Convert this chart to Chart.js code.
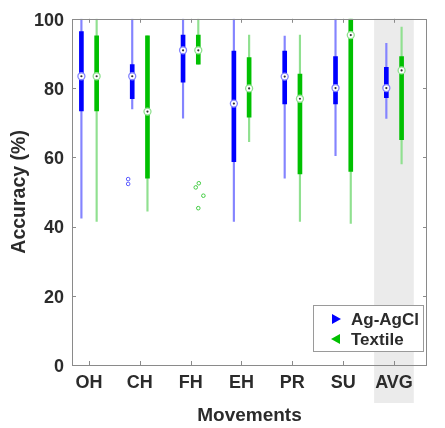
<!DOCTYPE html>
<html>
<head>
<meta charset="utf-8">
<script src="https://cdn.jsdelivr.net/npm/chart.js@4.4.1/dist/chart.umd.min.js"></script>
<style>
  html, body { margin: 0; padding: 0; background: #ffffff; }
  #wrap { width: 445px; height: 428px; }
</style>
</head>
<body>
<div id="wrap"><canvas id="c" width="445" height="428"></canvas></div>
<script>
// ---- data ----
const categories = ['OH', 'CH', 'FH', 'EH', 'PR', 'SU', 'AVG'];
const seriesNames = ['Ag-AgCl', 'Textile'];
const yTicks = [0, 20, 40, 60, 80, 100];

const agMin = [42.4, 74.0, 71.3, 41.5, 54.0, 60.5, 71.2];
const agQ1  = [73.4, 76.9, 81.7, 58.7, 75.4, 75.4, 77.2];
const agMed = [83.4, 83.4, 90.9, 75.5, 83.3, 80.0, 80.0];
const agQ3  = [96.3, 86.8, 95.3, 90.7, 90.7, 89.1, 86.0];
const agMax = [100, 100, 100, 100, 95.0, 100, 92.9];

const txMin = [41.5, 44.4, 86.9, 64.5, 41.5, 40.9, 58.1];
const txQ1  = [73.4, 54.0, 86.9, 71.6, 55.2, 55.9, 65.1];
const txMed = [83.4, 73.2, 90.9, 79.9, 76.9, 95.3, 85.1];
const txQ3  = [95.1, 95.1, 95.3, 88.8, 84.0, 100, 89.1];
const txMax = [100, 95.1, 100, 95.3, 95.3, 100, 97.6];

// outliers: category index (1-based), value, horizontal jitter
const agOutCat = [2, 2];
const agOutVal = [53.7, 52.3];
const agOutJit = [-0.08, -0.08];
const txOutCat = [3, 3, 3, 3];
const txOutVal = [51.3, 52.5, 48.9, 45.3];
const txOutJit = [-0.05, 0.01, 0.10, 0.0];

// ---- styling ----
const SHIFT = 0.15;
const BLUE = '#0000ff', BLUE_W = '#8484ff';
const GREEN = '#00c000', GREEN_W = '#90e090';
const TEXT = '#2b2b2b', AXIS = '#8a8a8a';
const FONT = "'Liberation Sans', Arial, Helvetica, sans-serif";
Chart.defaults.font.family = FONT;

const pos = (i, s) => i + 1 + s;
const ranges = (lo, hi, s) => categories.map((c, i) => ({ x: pos(i, s), y: [lo[i], hi[i]] }));
const points = (v, s) => categories.map((c, i) => ({ x: pos(i, s), y: v[i] }));
const outs = (cat, val, jit, s) => cat.map((c, k) => ({ x: c + s + jit[k], y: val[k] }));

function whisker(data, color) {
  return { type: 'bar', data, backgroundColor: color, borderWidth: 0, barThickness: 1.5, grouped: false, order: 5 };
}
function box(data, color) {
  return { type: 'bar', data, backgroundColor: color, borderWidth: 0, barThickness: 4, grouped: false, order: 4 };
}
function medRing(data, color) {
  return { type: 'scatter', data, pointRadius: 3.5, pointBackgroundColor: '#ffffff', pointBorderColor: color, pointBorderWidth: 1.3, order: 2 };
}
function medDot(data) {
  return { type: 'scatter', data, pointRadius: 1.1, pointBackgroundColor: '#333333', pointBorderWidth: 0, order: 1 };
}
function outlier(data, color) {
  return { type: 'scatter', data, pointRadius: 1.8, pointBackgroundColor: 'rgba(0,0,0,0)', pointBorderColor: color, pointBorderWidth: 1, order: 3 };
}

const datasets = [
  whisker(ranges(agMin, agMax, -SHIFT), BLUE_W),
  whisker(ranges(txMin, txMax, SHIFT), GREEN_W),
  box(ranges(agQ1, agQ3, -SHIFT), BLUE),
  box(ranges(txQ1, txQ3, SHIFT), GREEN),
  outlier(outs(agOutCat, agOutVal, agOutJit, -SHIFT), '#5a5aff'),
  outlier(outs(txOutCat, txOutVal, txOutJit, SHIFT), '#44cc44'),
  medRing(points(agMed, -SHIFT), BLUE_W),
  medRing(points(txMed, SHIFT), GREEN_W),
  medDot(points(agMed, -SHIFT)),
  medDot(points(txMed, SHIFT))
];

const framePlugin = {
  id: 'frame',
  beforeDraw(chart) {
    const { ctx, chartArea: a, scales: { x } } = chart;
    const avg = categories.length;
    const x0 = x.getPixelForValue(avg - 0.39), x1 = x.getPixelForValue(avg + 0.39);
    ctx.save();
    ctx.fillStyle = '#ebebeb';
    ctx.fillRect(x0, a.top, x1 - x0, a.bottom + 38 - a.top);
    ctx.restore();
  },
  afterDraw(chart) {
    const { ctx, chartArea: a, scales: { x, y } } = chart;
    ctx.save();
    ctx.strokeStyle = AXIS;
    ctx.lineWidth = 1;
    ctx.strokeRect(Math.round(a.left) + 0.5, Math.round(a.top) + 0.5,
      Math.round(a.right - a.left) - 1, Math.round(a.bottom - a.top));
    const tl = 4;
    ctx.beginPath();
    categories.forEach((c, i) => {
      const px = Math.round(x.getPixelForValue(i + 1)) + 0.5;
      ctx.moveTo(px, a.bottom); ctx.lineTo(px, a.bottom - tl);
      ctx.moveTo(px, a.top); ctx.lineTo(px, a.top + tl);
    });
    yTicks.forEach(v => {
      const py = Math.round(y.getPixelForValue(v)) + 0.5;
      ctx.moveTo(a.left, py); ctx.lineTo(a.left + tl, py);
      ctx.moveTo(a.right, py); ctx.lineTo(a.right - tl, py);
    });
    ctx.stroke();

    // legend
    const lw = 110, lh = 46;
    const lx = a.right - 4 - lw, ly = a.bottom - 14 - lh;
    ctx.fillStyle = '#ffffff';
    ctx.fillRect(lx, ly, lw, lh);
    ctx.strokeStyle = '#9a9a9a';
    ctx.strokeRect(Math.round(lx) + 0.5, Math.round(ly) + 0.5, lw, lh);
    const rows = [ly + 14, ly + 34];
    const mx = lx + 23;
    ctx.fillStyle = BLUE;
    ctx.beginPath();
    ctx.moveTo(mx - 4, rows[0] - 5); ctx.lineTo(mx + 5, rows[0]); ctx.lineTo(mx - 4, rows[0] + 5); ctx.closePath();
    ctx.fill();
    ctx.fillStyle = GREEN;
    ctx.beginPath();
    ctx.moveTo(mx + 4, rows[1] - 5); ctx.lineTo(mx - 5, rows[1]); ctx.lineTo(mx + 4, rows[1] + 5); ctx.closePath();
    ctx.fill();
    ctx.fillStyle = TEXT;
    ctx.font = 'bold 17px ' + FONT;
    ctx.textAlign = 'left';
    ctx.textBaseline = 'middle';
    ctx.fillText(seriesNames[0], lx + 38, rows[0] + 1);
    ctx.fillText(seriesNames[1], lx + 38, rows[1] + 1);
    ctx.restore();
  }
};

new Chart(document.getElementById('c'), {
  type: 'bar',
  data: { datasets },
  options: {
    responsive: false,
    animation: false,
    layout: { padding: { left: 8, top: 16, right: 18, bottom: 0 } },
    plugins: { legend: { display: false }, tooltip: { enabled: false } },
    scales: {
      x: {
        type: 'linear', min: 0.665, max: 7.65, offset: false,
        afterBuildTicks: s => { s.ticks = categories.map((c, i) => ({ value: i + 1 })); },
        afterFit: s => { s.height = 63; },
        ticks: {
          callback: v => categories[v - 1],
          font: { size: 18, weight: 'bold' }, color: TEXT,
          padding: 7, maxRotation: 0, autoSkip: false
        },
        grid: { display: false, drawTicks: false, offset: false },
        border: { display: false },
        title: { display: true, text: 'Movements', color: TEXT, font: { size: 19, weight: 'bold' }, padding: { top: 0, bottom: 1 } }
      },
      y: {
        min: 0, max: 100,
        afterBuildTicks: s => { s.ticks = yTicks.map(v => ({ value: v })); },
        afterFit: s => { s.width = 64; },
        ticks: { font: { size: 18, weight: 'bold' }, color: TEXT, padding: 8, labelOffset: 2 },
        grid: { display: false, drawTicks: false },
        border: { display: false },
        title: { display: true, text: 'Accuracy (%)', color: TEXT, font: { size: 19.5, weight: 'bold' }, padding: { top: 0, bottom: 0 } }
      }
    }
  },
  plugins: [framePlugin]
});
</script>
</body>
</html>
